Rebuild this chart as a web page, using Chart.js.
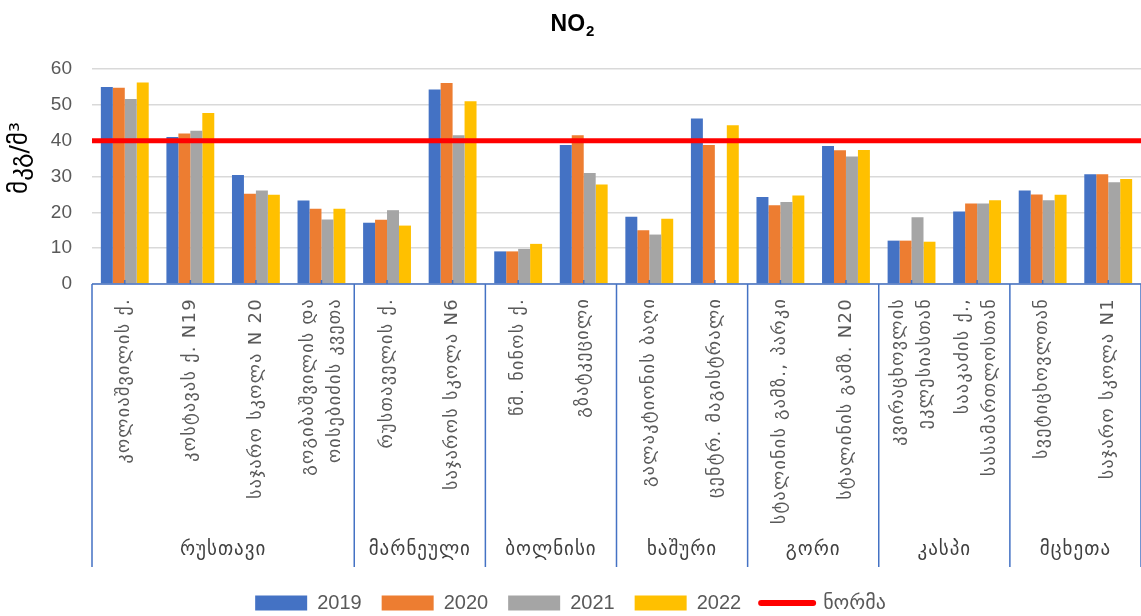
<!DOCTYPE html>
<html>
<head>
<meta charset="utf-8">
<title>NO2</title>
<script src="https://cdn.jsdelivr.net/npm/chart.js@4.4.1/dist/chart.umd.min.js"></script>
<style>
  body { margin: 0; background: #fff; }
  #wrap { width: 1141px; height: 616px; }
</style>
</head>
<body>
<div id="wrap"><canvas id="chart" width="1141" height="616"></canvas></div>
<script>
// stations (multi-line ones are arrays)
const stations = [
    'კოლიაშვილის ქ.',
    'კოსტავას ქ. N19',
    'საჯარო სკოლა N 20',
    ['გოგიბაშვილის და', 'ოისებიძის კვეთა'],
    'რუსთაველის ქ.',
    'საჯაროს სკოლა N6',
    'წმ. ნინოს ქ.',
    'გზატკეცილი',
    'გალაკტიონის ბაღი',
    'ცენტრ. მაგისტრალი',
    'სტალინის გამზ., პარკი',
    'სტალინის გამზ. N20',
    ['კვირაცხოვლის', 'ეკლესიასთან'],
    ['სააკაძის ქ.,', 'სასამართლოსთან'],
    'სვეტიცხოვლთან',
    'საჯარო სკოლა N1'
];
const groupNames = ['რუსთავი', 'მარნეული', 'ბოლნისი', 'ხაშური', 'გორი', 'კასპი', 'მცხეთა'];
const groupSizes = [4, 2, 2, 2, 2, 2, 2];

const years = ['2019', '2020', '2021', '2022'];
const v2019 = [55.0, 41.0, 30.4, 23.3, 17.1, 54.3, 9.1, 38.8, 18.8, 46.2, 24.3, 38.5, 12.1, 20.2, 26.1, 30.6];
const v2020 = [54.8, 42.0, 25.2, 21.0, 17.9, 56.1, 9.1, 41.5, 15.0, 38.8, 22.0, 37.3, 12.1, 22.5, 25.0, 30.6];
const v2021 = [51.6, 42.8, 26.1, 18.0, 20.6, 41.5, 9.8, 31.0, 13.8, null, 22.9, 35.6, 18.6, 22.5, 23.4, 28.4];
const v2022 = [56.2, 47.7, 24.9, 21.0, 16.3, 51.0, 11.2, 27.8, 18.2, 44.3, 24.7, 37.4, 11.8, 23.4, 24.9, 29.3];
const normValue = 40;
const normLabel = 'ნორმა';
const yTicks = [0, 10, 20, 30, 40, 50, 60];
const yTitle = 'მკგ/მ³';

const colors = ['#4472C4', '#ED7D31', '#A5A5A5', '#FFC000'];
const normColor = '#FF0000';
const axisBlue = '#4472C4';
const geoFont = '"DejaVu Sans", sans-serif';

const barSeries = [v2019, v2020, v2021, v2022].map((vals, i) => ({
    type: 'bar',
    label: years[i],
    data: vals,
    backgroundColor: colors[i],
    borderWidth: 0,
    barPercentage: 1.0,
    categoryPercentage: 0.73,
    order: 1
}));

// norm series; its line is stretched over the whole plot width below
const normLine = {
    type: 'line',
    label: normLabel,
    data: stations.map(() => normValue),
    borderColor: normColor,
    backgroundColor: normColor,
    borderWidth: 5,
    showLine: false,
    pointRadius: 0,
    order: 0
};

const normPlugin = {
    id: 'normLine',
    afterDatasetsDraw(chart) {
        const area = chart.chartArea;
        const y = chart.scales.y.getPixelForValue(normValue);
        const ctx = chart.ctx;
        ctx.save();
        ctx.strokeStyle = normColor;
        ctx.lineWidth = 5;
        ctx.beginPath();
        ctx.moveTo(area.left, y);
        ctx.lineTo(area.right, y);
        ctx.stroke();
        ctx.restore();
    }
};

// title, y title, station names, group names and the category box
const axisPlugin = {
    id: 'multiAxis',
    afterDraw(chart) {
        const ctx = chart.ctx;
        const xs = chart.scales.x;
        const area = chart.chartArea;
        const step = (area.right - area.left) / stations.length;
        const boxBottom = area.bottom + 283;

        ctx.save();
        // title NO2
        ctx.fillStyle = '#000';
        ctx.textBaseline = 'alphabetic';
        ctx.font = 'bold 23px "Liberation Sans", sans-serif';
        const w1 = ctx.measureText('NO').width;
        ctx.font = 'bold 15px "Liberation Sans", sans-serif';
        const w2 = ctx.measureText('2').width;
        const tx = 572 - (w1 + w2) / 2;
        ctx.font = 'bold 23px "Liberation Sans", sans-serif';
        ctx.textAlign = 'left';
        ctx.fillText('NO', tx, 31);
        ctx.font = 'bold 15px "Liberation Sans", sans-serif';
        ctx.fillText('2', tx + w1 + 1, 36);

        // y axis title
        ctx.save();
        ctx.translate(20, 158);
        ctx.rotate(-Math.PI / 2);
        ctx.font = '25px ' + geoFont;
        ctx.textAlign = 'center';
        ctx.textBaseline = 'middle';
        ctx.fillText(yTitle, 0, 0);
        ctx.restore();

        // box lines
        ctx.strokeStyle = axisBlue;
        ctx.lineWidth = 1.5;
        ctx.beginPath();
        ctx.moveTo(area.left, area.bottom);
        ctx.lineTo(area.right, area.bottom);
        stations.forEach((s, i) => {
            const cx = xs.getPixelForValue(i);
            ctx.moveTo(cx, area.bottom);
            ctx.lineTo(cx, area.bottom - 4);
        });
        let idx = 0;
        ctx.moveTo(area.left, area.bottom);
        ctx.lineTo(area.left, boxBottom);
        groupSizes.forEach(n => {
            idx += n;
            const bx = area.left + idx * step;
            ctx.moveTo(bx, area.bottom);
            ctx.lineTo(bx, boxBottom);
        });
        ctx.stroke();

        // rotated station labels
        ctx.fillStyle = '#595959';
        ctx.font = '18px ' + geoFont;
        ctx.letterSpacing = '1.3px';
        ctx.textAlign = 'right';
        ctx.textBaseline = 'middle';
        stations.forEach((s, i) => {
            const lines = Array.isArray(s) ? s : [s];
            const cx = xs.getPixelForValue(i);
            ctx.save();
            ctx.translate(cx, area.bottom + 14);
            ctx.rotate(-Math.PI / 2);
            lines.forEach((ln, j) => {
                ctx.fillText(ln, 0, (j - (lines.length - 1) / 2) * 27);
            });
            ctx.restore();
        });

        // group labels
        ctx.fillStyle = '#404040';
        ctx.font = '19px ' + geoFont;
        ctx.letterSpacing = '1px';
        ctx.textAlign = 'center';
        idx = 0;
        groupNames.forEach((g, k) => {
            const mid = area.left + (idx + groupSizes[k] / 2) * step;
            ctx.fillText(g, mid, area.bottom + 266);
            idx += groupSizes[k];
        });
        ctx.letterSpacing = '0px';
        ctx.restore();
    }
};

// move the legend down a little
const legendShift = {
    id: 'legendShift',
    beforeInit(chart) {
        const fit = chart.legend.fit;
        chart.legend.fit = function() {
            fit.bind(chart.legend)();
            this.height -= 7;
        };
    }
};

new Chart(document.getElementById('chart'), {
    type: 'bar',
    data: {
        labels: stations.map(s => Array.isArray(s) ? s.join(' ') : s),
        datasets: [...barSeries, normLine]
    },
    options: {
        responsive: false,
        animation: false,
        layout: { padding: { top: 69, left: 0, right: 0, bottom: 0 } },
        scales: {
            x: {
                ticks: { display: false },
                grid: { display: false },
                border: { display: false },
                afterFit(s) { s.height = 289; }
            },
            y: {
                min: 0,
                max: 60,
                afterBuildTicks(s) { s.ticks = yTicks.map(v => ({ value: v })); },
                ticks: {
                    padding: 20,
                    color: '#595959',
                    font: { size: 19, family: '"Liberation Sans", sans-serif' }
                },
                grid: { color: '#d9d9d9', lineWidth: 1.5, drawTicks: false },
                border: { display: false },
                afterFit(s) { s.width = 92; }
            }
        },
        plugins: {
            title: { display: false },
            tooltip: { enabled: false },
            legend: {
                position: 'bottom',
                labels: {
                    usePointStyle: true,
                    pointStyleWidth: 52,
                    boxHeight: 15,
                    padding: 20,
                    color: '#595959',
                    font: { size: 20, family: '"Liberation Sans", "DejaVu Sans", sans-serif' },
                    generateLabels(chart) {
                        return chart.data.datasets.map((ds, i) => {
                            const isLine = ds.type === 'line';
                            return {
                                text: ds.label,
                                datasetIndex: i,
                                fillStyle: ds.backgroundColor,
                                strokeStyle: isLine ? ds.borderColor : ds.backgroundColor,
                                lineWidth: isLine ? 6 : 0,
                                lineCap: 'round',
                                pointStyle: isLine ? 'line' : 'rect',
                                fontColor: '#595959',
                                hidden: false
                            };
                        });
                    }
                }
            }
        }
    },
    plugins: [normPlugin, axisPlugin, legendShift]
});
</script>
</body>
</html>
